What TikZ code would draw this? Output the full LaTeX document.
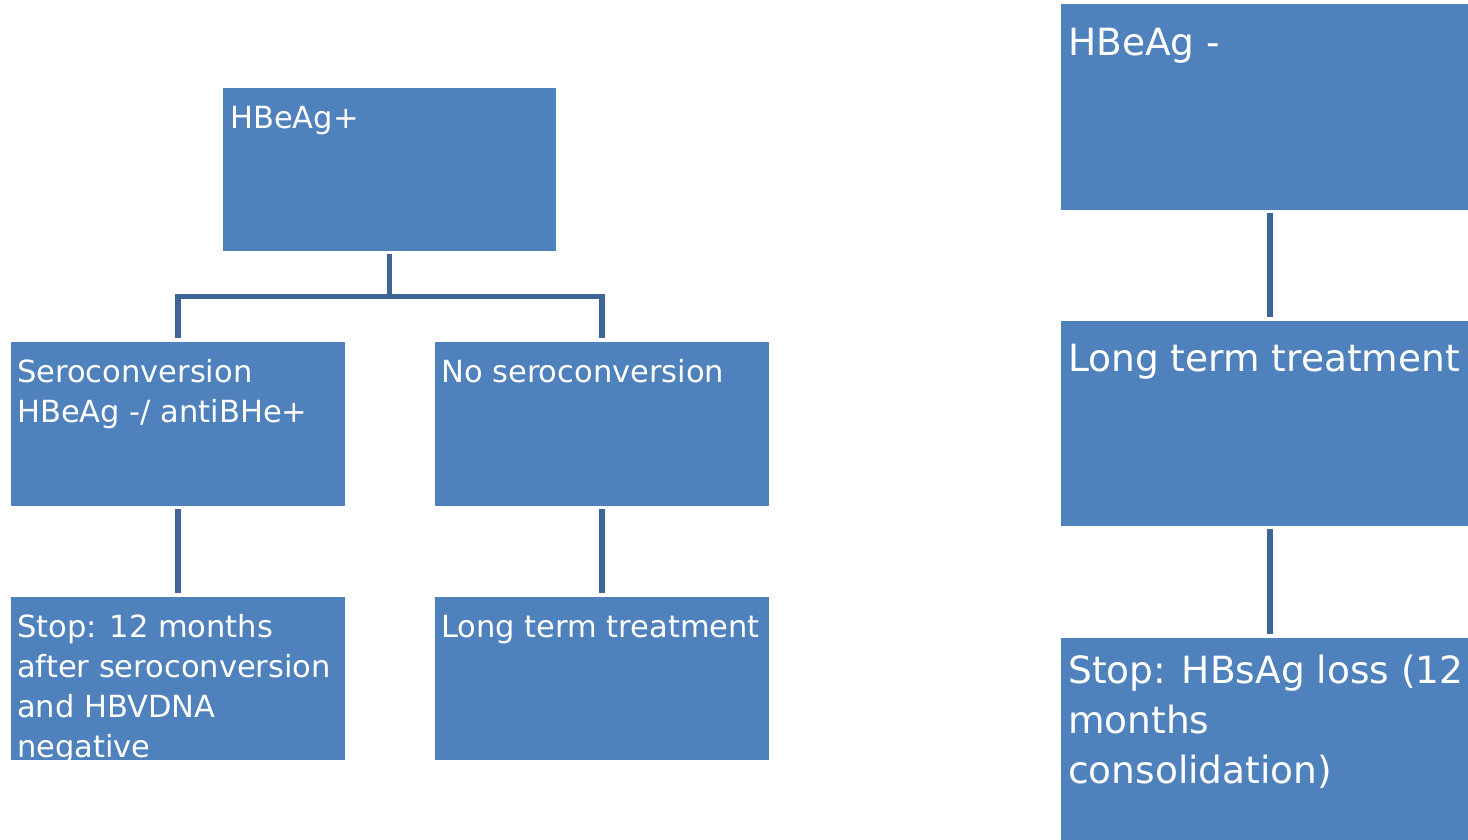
\documentclass[tikz,border=0pt]{standalone}
\usepackage{fontspec}
\setmainfont{DejaVu Sans}
\begin{document}
\begin{tikzpicture}[x=1pt,y=-1pt,
  boxfill/.style={fill={rgb,255:red,79;green,129;blue,189}, draw=none, inner sep=0pt, anchor=north west},
  conn/.style={draw={rgb,255:red,62;green,101;blue,150}, line width=5.5pt, shorten <=3pt, shorten >=4pt},
  lbl/.style={anchor=north west, inner sep=0pt, align=left, text=white},
  small/.style={font=\fontsize{30.5}{40}\selectfont},
  large/.style={font=\fontsize{37.5}{50}\selectfont}]
\clip (0,0) rectangle (1468,840);

% left tree: boxes
\node[boxfill, minimum width=333pt, minimum height=163pt] (hbp)    at (223,88)  {};
\node[boxfill, minimum width=334pt, minimum height=164pt] (sero)   at (11,342)  {};
\node[boxfill, minimum width=334pt, minimum height=164pt] (nosero) at (435,342) {};
\node[boxfill, minimum width=334pt, minimum height=163pt] (stopl)  at (11,597)  {};
\node[boxfill, minimum width=334pt, minimum height=163pt] (longl)  at (435,597) {};

% right chain: boxes (run past the page edge)
\node[boxfill, minimum width=418pt, minimum height=206pt] (hbn)    at (1061,4)   {};
\node[boxfill, minimum width=418pt, minimum height=205pt] (longr)  at (1061,321) {};
\node[boxfill, minimum width=418pt, minimum height=206pt] (stopr)  at (1061,638) {};

% texts
\node[lbl, small] at ([shift={(7,0)}]hbp.north west)    {\rule{0pt}{40pt}HBeAg+};
\node[lbl, small] at ([shift={(6,0)}]sero.north west)   {\rule{0pt}{40pt}Seroconversion\\HBeAg -/ antiBHe+};
\node[lbl, small] at ([shift={(6,0)}]nosero.north west) {\rule{0pt}{40pt}No seroconversion};
\node[lbl, small] at ([shift={(6,0)}]stopl.north west)  {\rule{0pt}{40pt}Stop: 12 months\\after seroconversion\\and HBVDNA\\negative};
\node[lbl, small] at ([shift={(6,0)}]longl.north west)  {\rule{0pt}{40pt}Long term treatment};
\node[lbl, large] at ([shift={(7,0)}]hbn.north west)    {\rule{0pt}{51pt}HBeAg -};
\node[lbl, large] at ([shift={(7,0)}]longr.north west)  {\rule{0pt}{50pt}Long term treatment};
\node[lbl, large] at ([shift={(7,0)}]stopr.north west)  {\rule{0pt}{45pt}Stop: HBsAg loss (12\\months\\consolidation)};

% connectors
\draw[conn] (hbp.south) -- ++(0,45) -| (sero.north);
\draw[conn] (hbp.south) -- ++(0,45) -| (nosero.north);
\draw[conn] (sero.south) -- (stopl.north);
\draw[conn] (nosero.south) -- (longl.north);
\draw[conn] (hbn.south) -- (longr.north);
\draw[conn] (longr.south) -- (stopr.north);
\end{tikzpicture}
\end{document}
